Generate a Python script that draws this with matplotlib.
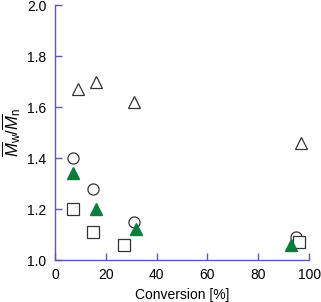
import matplotlib
matplotlib.use('Agg')
import matplotlib.pyplot as plt

plt.rcParams['font.family'] = ['Liberation Sans', 'DejaVu Sans']
plt.rcParams['mathtext.fontset'] = 'custom'
plt.rcParams['mathtext.it'] = 'Liberation Sans:italic'
plt.rcParams['mathtext.rm'] = 'Liberation Sans'

# open triangles
tri_x = [9, 16, 31, 97]
tri_y = [1.67, 1.70, 1.62, 1.46]
# open circles
circ_x = [7, 15, 31, 95]
circ_y = [1.40, 1.28, 1.15, 1.09]
# open squares
sq_x = [7, 15, 27, 96]
sq_y = [1.20, 1.11, 1.06, 1.07]
# filled green triangles
gtri_x = [7, 16, 32, 93]
gtri_y = [1.34, 1.20, 1.12, 1.06]

xticks = [0, 20, 40, 60, 80, 100]
yticks = [1.0, 1.2, 1.4, 1.6, 1.8, 2.0]

axis_col = '#5a5ab4'

fig = plt.figure(figsize=(3.21, 3.02), dpi=100)
ax = fig.add_axes([0.171, 0.139, 0.792, 0.844])

ax.plot(tri_x, tri_y, '^', ms=8, mfc='white', mec='#333333', mew=0.9, ls='none')
ax.plot(circ_x, circ_y, 'o', ms=8, mfc='white', mec='#333333', mew=0.9, ls='none')
ax.plot(sq_x, sq_y, 's', ms=8, mfc='white', mec='#333333', mew=0.9, ls='none')
ax.plot(gtri_x, gtri_y, '^', ms=8, mfc='#0a7d3c', mec='#0a7d3c', ls='none')

ax.set_xlim(0, 100)
ax.set_ylim(1.0, 2.0)
ax.set_xticks(xticks)
ax.set_yticks(yticks)
ax.set_yticklabels(['%.1f' % v for v in yticks])

for s in ['top', 'right']:
    ax.spines[s].set_visible(False)
for s in ['left', 'bottom']:
    ax.spines[s].set_color(axis_col)
    ax.spines[s].set_linewidth(1.0)
ax.tick_params(direction='in', length=5, width=1.0, color=axis_col, labelsize=10, pad=6)

ax.set_xlabel('Conversion [%]', fontsize=10, labelpad=4)
ax.set_ylabel(r'$\overline{M}_\mathrm{w}/\overline{M}_\mathrm{n}$', fontsize=12, labelpad=3)

fig.savefig('out.png', dpi=100)
